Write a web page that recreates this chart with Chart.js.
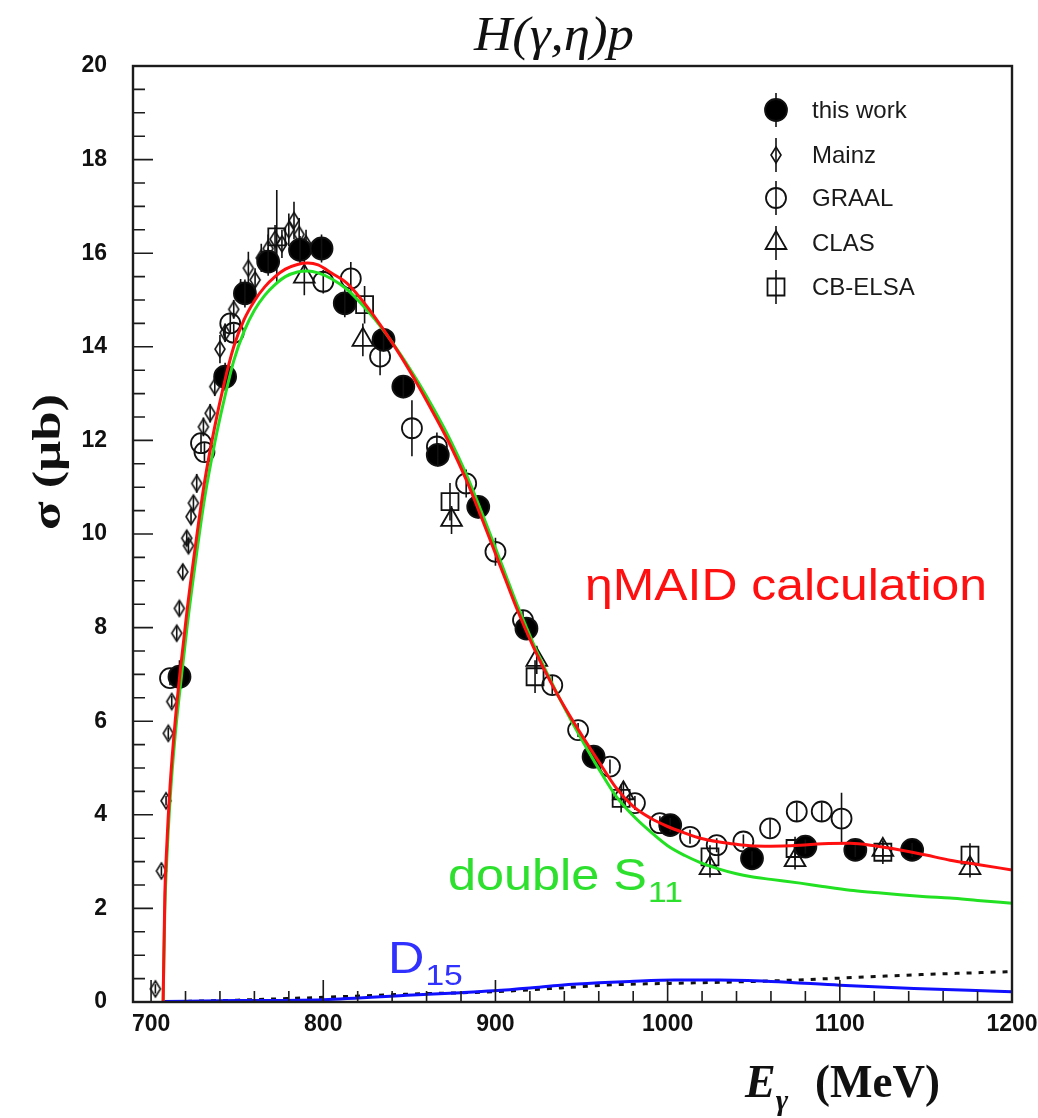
<!DOCTYPE html>
<html>
<head>
<meta charset="UTF-8">
<title>H(γ,η)p total cross section</title>
<script src="https://cdn.jsdelivr.net/npm/chart.js"></script>
<style>
  body { margin: 0; background: #fff; }
  #wrap { width: 1038px; height: 1118px; }
</style>
</head>
<body>
<div id="wrap"><canvas id="xsec" width="1038" height="1118"></canvas></div>
<script>
// photon energy E (MeV), cross section sigma (µb), errors (µb)
const thisWorkE   = [716.5, 743, 754.5, 768, 786.5, 799, 812.5, 835, 846.5, 866.5, 890, 918, 957, 1001.5, 1049, 1080, 1109, 1142];
const thisWorkSig = [6.95, 13.36, 15.14, 15.82, 16.07, 16.1, 14.93, 14.15, 13.15, 11.69, 10.58, 7.98, 5.24, 3.78, 3.07, 3.32, 3.25, 3.25];
const thisWorkErr = [0.35, 0.3, 0.3, 0.3, 0.3, 0.3, 0.3, 0.25, 0.25, 0.25, 0.25, 0.2, 0.2, 0.15, 0.15, 0.15, 0.15, 0.15];

const mainzE   = [702.5, 706, 708.7, 710, 712, 714.9, 716.4, 718.4, 720.7, 721.7, 723.2, 724.6, 726.5, 730.4, 734.3, 737, 740, 743, 748, 752, 756.5, 760.4, 764, 768, 772, 776, 780, 783, 786, 790];
const mainzSig = [0.28, 2.8, 4.3, 5.74, 6.42, 7.88, 8.41, 9.19, 9.91, 9.75, 10.37, 10.66, 11.08, 12.29, 12.58, 13.15, 13.95, 14.3, 14.8, 15.2, 15.68, 15.43, 15.9, 16.1, 16.3, 16.2, 16.5, 16.7, 16.4, 16.2];
const mainzErr = [0.1, 0.1, 0.1, 0.12, 0.12, 0.15, 0.15, 0.15, 0.15, 0.15, 0.15, 0.15, 0.2, 0.2, 0.2, 0.2, 0.3, 0.2, 0.2, 0.25, 0.35, 0.25, 0.3, 0.3, 0.3, 0.3, 0.35, 0.4, 0.35, 0.3];

const graalE   = [711, 729, 731, 746, 748, 800, 816, 833, 851.5, 866, 883, 900, 916, 933, 948, 966.5, 981, 995.5, 1013, 1028.5, 1044, 1059.5, 1075, 1089.5, 1101];
const graalSig = [6.92, 11.94, 11.75, 14.5, 14.3, 15.39, 15.46, 13.79, 12.26, 11.87, 11.08, 9.62, 8.16, 6.77, 5.81, 5.03, 4.25, 3.82, 3.53, 3.35, 3.43, 3.71, 4.07, 4.07, 3.92];
const graalErr = [0.15, 0.2, 0.2, 0.2, 0.2, 0.25, 0.35, 0.4, 0.6, 0.3, 0.3, 0.3, 0.2, 0.2, 0.15, 0.15, 0.15, 0.15, 0.15, 0.15, 0.15, 0.2, 0.2, 0.2, 0.55];

const clasE   = [789, 823, 874.5, 924, 974.3, 1024.6, 1074, 1125, 1175.6];
const clasSig = [15.5, 14.15, 10.3, 7.31, 4.46, 2.86, 3.03, 3.25, 2.86];
const clasErr = [0.4, 0.35, 0.3, 0.3, 0.25, 0.2, 0.2, 0.2, 0.2];

const elsaE   = [773, 824, 873.6, 923, 973, 1024.6, 1074, 1125, 1175.6];
const elsaSig = [16.35, 14.9, 10.69, 6.95, 4.35, 3.1, 3.28, 3.2, 3.14];
const elsaErr = [1.0, 0.4, 0.4, 0.35, 0.3, 0.25, 0.25, 0.25, 0.25];

// model curves, sampled on a common energy grid
const modelE  = [707, 708, 709, 711, 714, 717, 721, 726.5, 731, 737, 742, 748, 754, 760, 766, 772, 778, 785, 791, 797, 805, 814, 825, 834, 845, 855, 864, 874, 883, 890, 900, 906, 912, 922, 932, 941, 951, 961, 970, 980, 990, 1000, 1010, 1019, 1030, 1040, 1048, 1060, 1077, 1090, 1106, 1120, 1135, 1150, 1164, 1180, 1200];
const maidSig = [0, 2.3, 3.25, 4.6, 6.0, 7.1, 8.4, 9.95, 11.1, 12.3, 13.15, 14.0, 14.58, 14.98, 15.28, 15.5, 15.66, 15.76, 15.79, 15.75, 15.57, 15.35, 14.88, 14.42, 13.8, 13.18, 12.58, 11.88, 11.16, 10.53, 9.58, 9.01, 8.44, 7.59, 6.84, 6.25, 5.65, 5.08, 4.58, 4.18, 3.93, 3.75, 3.61, 3.5, 3.42, 3.37, 3.34, 3.33, 3.35, 3.38, 3.39, 3.34, 3.25, 3.14, 3.03, 2.94, 2.82];
const s11Sig  = [0, 2.0, 2.95, 4.3, 5.7, 6.75, 8.05, 9.6, 10.75, 11.95, 12.8, 13.7, 14.33, 14.78, 15.1, 15.33, 15.5, 15.6, 15.62, 15.58, 15.45, 15.22, 14.8, 14.4, 13.83, 13.25, 12.68, 11.99, 11.28, 10.65, 9.7, 9.12, 8.54, 7.66, 6.87, 6.22, 5.55, 4.92, 4.4, 3.98, 3.64, 3.34, 3.13, 2.98, 2.84, 2.74, 2.68, 2.62, 2.54, 2.47, 2.39, 2.34, 2.29, 2.25, 2.22, 2.17, 2.11];

const d15E   = [707, 750, 800, 852, 880, 899, 920, 938, 960, 978, 1004, 1030, 1060, 1100, 1143, 1175, 1200];
const d15Sig = [0.01, 0.03, 0.05, 0.15, 0.2, 0.24, 0.3, 0.36, 0.41, 0.44, 0.47, 0.47, 0.44, 0.36, 0.29, 0.25, 0.22];

const dashE   = [707, 750, 800, 852, 899, 938, 970, 1004, 1030, 1060, 1100, 1143, 1200];
const dashSig = [0, 0.04, 0.1, 0.17, 0.22, 0.3, 0.37, 0.4, 0.42, 0.45, 0.51, 0.58, 0.65];

const xTicks = [700, 800, 900, 1000, 1100, 1200];
const yTicks = [0, 2, 4, 6, 8, 10, 12, 14, 16, 18, 20];

const pts = (xs, ys) => xs.map((x, i) => ({ x, y: ys[i] }));

// narrow upright diamond used for the Mainz points
function diamond(w, h) {
  const c = document.createElement('canvas');
  c.width = w + 4; c.height = h + 4;
  const g = c.getContext('2d');
  g.strokeStyle = '#111'; g.lineWidth = 1.6;
  g.beginPath();
  g.moveTo(c.width / 2, 2); g.lineTo(c.width - 2, c.height / 2);
  g.lineTo(c.width / 2, c.height - 2); g.lineTo(2, c.height / 2);
  g.closePath(); g.stroke();
  return c;
}
const mainzMark = diamond(10, 16);

function curve(label, xs, ys, color, dash) {
  return {
    label, data: pts(xs, ys), showLine: true, borderColor: color, borderWidth: 3,
    borderDash: dash || [], pointRadius: 0, fill: false, cubicInterpolationMode: 'monotone'
  };
}
function points(label, xs, ys, errs, style, r, fill) {
  return {
    label, data: pts(xs, ys), errors: errs, showLine: false, pointStyle: style,
    pointRadius: r, borderColor: '#111', borderWidth: 1.8,
    backgroundColor: fill ? '#000' : 'rgba(0,0,0,0)'
  };
}

const errorBars = {
  id: 'errorBars',
  afterDatasetDraw(chart, args) {
    const ds = chart.data.datasets[args.index];
    if (!ds.errors) return;
    const { ctx, scales: { x, y } } = chart;
    ctx.save();
    ctx.strokeStyle = '#111';
    ctx.lineWidth = 1.6;
    ctx.beginPath();
    ds.data.forEach((p, j) => {
      const px = x.getPixelForValue(p.x);
      ctx.moveTo(px, y.getPixelForValue(p.y - ds.errors[j]));
      ctx.lineTo(px, y.getPixelForValue(p.y + ds.errors[j]));
    });
    ctx.stroke();
    ctx.restore();
  }
};

const frameTicks = {
  id: 'frameTicks',
  afterDraw(chart) {
    const { ctx, chartArea: a, scales: { x, y } } = chart;
    ctx.save();
    ctx.strokeStyle = '#1c1c1c';
    ctx.lineWidth = 1.6;
    ctx.beginPath();
    for (let v = 700; v <= 1200; v += 20) {
      const px = x.getPixelForValue(v);
      ctx.moveTo(px, a.bottom);
      ctx.lineTo(px, a.bottom - (v % 100 === 0 ? 22 : 11));
    }
    for (let v = 0; v <= 20; v += 0.5) {
      const py = y.getPixelForValue(v);
      ctx.moveTo(a.left, py);
      ctx.lineTo(a.left + (v % 2 === 0 ? 20 : 12), py);
    }
    ctx.stroke();
    ctx.lineWidth = 2.4;
    ctx.strokeRect(a.left, a.top, a.right - a.left, a.bottom - a.top);
    ctx.restore();
  }
};

function stretched(ctx, str, x, y, sx) {
  ctx.save();
  ctx.translate(x, y);
  ctx.scale(sx, 1);
  ctx.fillText(str, 0, 0);
  const w = ctx.measureText(str).width * sx;
  ctx.restore();
  return w;
}

function legendSymbol(ctx, ds, x, y) {
  ctx.save();
  ctx.strokeStyle = '#111';
  ctx.lineWidth = 1.6;
  ctx.beginPath();
  ctx.moveTo(x, y - 17); ctx.lineTo(x, y + 17);
  ctx.stroke();
  ctx.lineWidth = 1.8;
  ctx.fillStyle = ds.backgroundColor;
  const r = ds.pointRadius;
  ctx.beginPath();
  if (ds.pointStyle === 'circle') {
    ctx.arc(x, y, r, 0, Math.PI * 2);
  } else if (ds.pointStyle === 'triangle') {
    ctx.moveTo(x, y - r);
    ctx.lineTo(x + r * Math.sin(Math.PI / 3), y + r / 2);
    ctx.lineTo(x - r * Math.sin(Math.PI / 3), y + r / 2);
    ctx.closePath();
  } else if (ds.pointStyle === 'rect') {
    const s = r * Math.SQRT1_2;
    ctx.rect(x - s, y - s, 2 * s, 2 * s);
  } else {
    ctx.drawImage(ds.pointStyle, x - ds.pointStyle.width / 2, y - ds.pointStyle.height / 2);
    ctx.restore();
    return;
  }
  ctx.fill();
  ctx.stroke();
  ctx.restore();
}

const labels = {
  id: 'labels',
  afterDraw(chart) {
    const ctx = chart.ctx;
    ctx.save();
    ctx.textBaseline = 'alphabetic';

    // title
    ctx.fillStyle = '#111';
    ctx.font = "italic 48px 'Liberation Serif', serif";
    let w = ctx.measureText('H(γ,η)p').width;
    stretched(ctx, 'H(γ,η)p', 474, 50, 160 / w);

    // x axis title
    ctx.font = "italic bold 46px 'Liberation Serif', serif";
    let xx = 745 + stretched(ctx, 'E', 745, 1097, 1.0);
    ctx.font = "italic bold 30px 'Liberation Serif', serif";
    stretched(ctx, 'γ', xx, 1110, 1.0);
    ctx.font = "bold 46px 'Liberation Serif', serif";
    w = ctx.measureText('(MeV)').width;
    stretched(ctx, '(MeV)', 815, 1097, 125 / w);

    // y axis title
    ctx.save();
    ctx.translate(60, 462);
    ctx.rotate(-Math.PI / 2);
    ctx.font = "bold 40px 'Liberation Serif', serif";
    w = ctx.measureText('σ (μb)').width;
    stretched(ctx, 'σ (μb)', -68, 0, 136 / w);
    ctx.restore();

    // curve annotations
    ctx.fillStyle = '#ff1010';
    ctx.font = "45px 'Liberation Sans', Arial, sans-serif";
    w = ctx.measureText('ηMAID calculation').width;
    stretched(ctx, 'ηMAID calculation', 585, 600, 402 / w);

    ctx.fillStyle = '#2ee02e';
    xx = 448 + stretched(ctx, 'double S', 448, 890, 1.12);
    ctx.font = "30px 'Liberation Sans', Arial, sans-serif";
    stretched(ctx, '11', xx + 1, 902, 1.12);

    ctx.fillStyle = '#3030ff';
    ctx.font = "45px 'Liberation Sans', Arial, sans-serif";
    xx = 388 + stretched(ctx, 'D', 388, 973, 1.12);
    ctx.font = "30px 'Liberation Sans', Arial, sans-serif";
    stretched(ctx, '15', xx + 1, 985, 1.12);

    // legend
    const rows = [110, 155, 198, 243, 287];
    ctx.font = "24px 'Liberation Sans', Arial, sans-serif";
    ctx.textBaseline = 'middle';
    chart.data.datasets.filter(d => d.errors).forEach((ds, i) => {
      legendSymbol(ctx, ds, 776, rows[i]);
      ctx.fillStyle = '#1a1a1a';
      ctx.fillText(ds.label, 812, rows[i] + 1);
    });
    ctx.restore();
  }
};

const tickFont = { family: "'Liberation Sans Narrow', 'Liberation Sans', sans-serif", size: 23, weight: 'bold' };

new Chart(document.getElementById('xsec'), {
  type: 'scatter',
  data: {
    datasets: [
      curve('ηMAID calculation', modelE, maidSig, '#ff1010'),
      curve('double S11', modelE, s11Sig, '#22e022'),
      curve('D15', d15E, d15Sig, '#1010ff'),
      curve('', dashE, dashSig, '#111', [5, 7]),
      points('this work', thisWorkE, thisWorkSig, thisWorkErr, 'circle', 11, true),
      points('Mainz', mainzE, mainzSig, mainzErr, mainzMark, 6, false),
      points('GRAAL', graalE, graalSig, graalErr, 'circle', 10, false),
      points('CLAS', clasE, clasSig, clasErr, 'triangle', 12, false),
      points('CB-ELSA', elsaE, elsaSig, elsaErr, 'rect', 12, false)
    ]
  },
  options: {
    responsive: false,
    animation: false,
    events: [],
    layout: { padding: { left: 0, top: 66, right: 26, bottom: 0 } },
    plugins: { legend: { display: false }, tooltip: { enabled: false } },
    scales: {
      x: {
        type: 'linear', min: 689.5, max: 1200,
        grid: { display: false, drawTicks: false },
        border: { display: false },
        afterFit: s => { s.height = 116; s.paddingRight = 0; s.paddingLeft = 0; },
        afterBuildTicks: s => { s.ticks = xTicks.map(v => ({ value: v })); },
        ticks: { padding: 9, color: '#111', maxRotation: 0, autoSkip: false, font: tickFont, callback: v => String(v) }
      },
      y: {
        type: 'linear', min: 0, max: 20,
        grid: { display: false, drawTicks: false },
        border: { display: false },
        afterFit: s => { s.width = 133; s.paddingTop = 0; s.paddingBottom = 0; },
        afterBuildTicks: s => { s.ticks = yTicks.map(v => ({ value: v })); },
        ticks: { padding: 26, color: '#111', font: tickFont, callback: v => String(v) }
      }
    }
  },
  plugins: [errorBars, frameTicks, labels]
});
</script>
</body>
</html>
